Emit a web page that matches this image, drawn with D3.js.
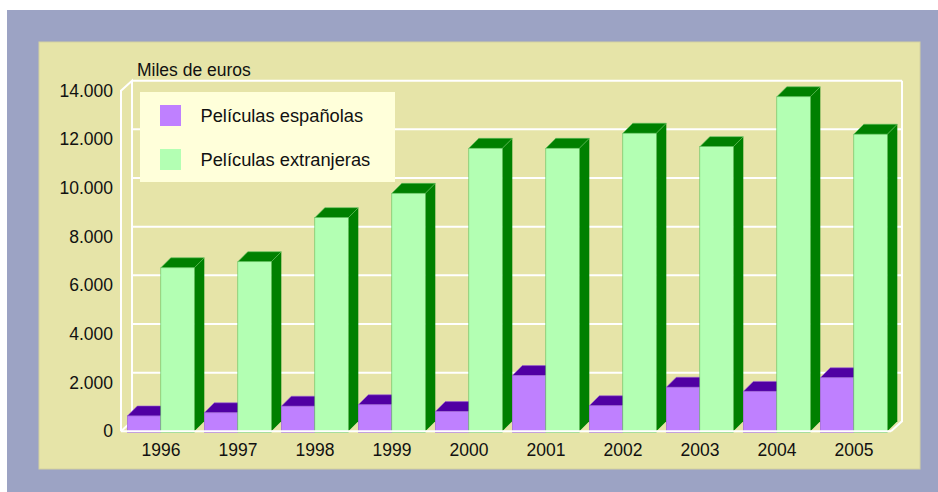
<!DOCTYPE html>
<html>
<head>
<meta charset="utf-8">
<script src="https://cdn.jsdelivr.net/npm/d3@7"></script>
<style>
  body { margin: 0; background: #fff; }
  svg { display: block; font-family: "Liberation Sans", Arial, sans-serif; }
</style>
</head>
<body>
<div id="chart"></div>
<script>
// values (miles de euros)
const years = ["1996", "1997", "1998", "1999", "2000", "2001", "2002", "2003", "2004", "2005"];
const espanolas = [630, 760, 1030, 1090, 810, 2290, 1050, 1810, 1640, 2200];
const extranjeras = [6720, 6970, 8780, 9780, 11630, 11630, 12250, 11700, 13750, 12210];
const seriesNames = ["Películas españolas", "Películas extranjeras"];
const yTicks = [0, 2000, 4000, 6000, 8000, 10000, 12000, 14000];

const WIDTH = 938;
const HEIGHT = 492;
const DEPTH_X = 11;   // wall depth
const DEPTH_Y = 10;
const BAR_DX = 10;    // bar depth
const BAR_DY = 10;
const FRONT_LEFT = 121;
const FRONT_RIGHT = 891;
const FRONT_BOTTOM = 431.3;
const FRONT_TOP = 90.7;

const colors = {
  front: ["#bf80ff", "#b3ffb3"],
  dark: ["#5000a3", "#008000"],
  edge: ["#9a5fd6", "#5cbf5c"]
};

const fmt = d3.formatLocale({ decimal: ",", thousands: ".", grouping: [3], currency: ["", " €"] }).format(",");

const svg = d3.select("#chart")
  .append("svg")
  .attr("width", WIDTH)
  .attr("height", HEIGHT);

// frame + panel
svg.append("rect").attr("x", 7).attr("y", 10).attr("width", WIDTH - 7).attr("height", HEIGHT - 10).attr("fill", "#9ca3c4");
svg.append("rect").attr("x", 39).attr("y", 42).attr("width", 881).attr("height", 427)
  .attr("fill", "#e6e4a8").attr("stroke", "#d4d2a0").attr("stroke-width", 1);

// scales
const x = d3.scaleBand().domain(years).range([FRONT_LEFT, FRONT_RIGHT]);
const sub = d3.scaleBand().domain(seriesNames).range([6.3, 73.3]);
const y = d3.scaleLinear().domain([0, 14000]).range([FRONT_BOTTOM, FRONT_TOP]);

// back wall grid
const walls = svg.append("g").attr("stroke", "#fff").attr("stroke-width", 2).attr("fill", "none");
walls.selectAll("line.grid")
  .data(yTicks.filter(d => d > 0))
  .join("line")
  .attr("class", "grid")
  .attr("x1", FRONT_LEFT + DEPTH_X)
  .attr("x2", FRONT_RIGHT + DEPTH_X)
  .attr("y1", d => y(d) - DEPTH_Y)
  .attr("y2", d => y(d) - DEPTH_Y);

const backTop = y(14000) - DEPTH_Y;
const backBottom = y(0) - DEPTH_Y;
walls.append("path").attr("d",
  `M${FRONT_LEFT},${FRONT_BOTTOM}V${y(14000)}L${FRONT_LEFT + DEPTH_X},${backTop}V${backBottom}`);
walls.append("path").attr("d",
  `M${FRONT_RIGHT + DEPTH_X},${backTop}V${backBottom}L${FRONT_RIGHT},${FRONT_BOTTOM}`);
walls.append("path").attr("d", `M${FRONT_LEFT},${FRONT_BOTTOM}L${FRONT_LEFT + DEPTH_X},${backBottom}`);

// bars
const rows = years.map((yr, i) => ({ year: yr, values: [espanolas[i], extranjeras[i]] }));
const barG = svg.append("g");

rows.forEach(row => {
  row.values.forEach((v, s) => {
    const x0 = x(row.year) + sub(seriesNames[s]);
    const w = sub.bandwidth();
    const yt = y(v);
    const yb = y(0);
    const bar = barG.append("g");
    // side
    bar.append("path")
      .attr("d", `M${x0 + w},${yt}L${x0 + w + BAR_DX},${yt - BAR_DY}V${yb - BAR_DY}L${x0 + w},${yb}Z`)
      .attr("fill", colors.dark[s]);
    // top
    bar.append("path")
      .attr("d", `M${x0},${yt}L${x0 + BAR_DX},${yt - BAR_DY}H${x0 + w + BAR_DX}L${x0 + w},${yt}Z`)
      .attr("fill", colors.dark[s])
      .attr("stroke", colors.edge[s]).attr("stroke-width", 0.6);
    // front
    bar.append("rect")
      .attr("x", x0).attr("y", yt)
      .attr("width", w).attr("height", yb - yt + 1.2)
      .attr("fill", colors.front[s])
      .attr("stroke", colors.edge[s]).attr("stroke-width", 0.6);
  });
});

// front floor edge over bars
svg.append("line")
  .attr("x1", FRONT_LEFT).attr("x2", FRONT_RIGHT)
  .attr("y1", FRONT_BOTTOM).attr("y2", FRONT_BOTTOM)
  .attr("stroke", "#fff").attr("stroke-width", 2);

// axes
const yAxis = svg.append("g")
  .attr("transform", `translate(${FRONT_LEFT},0)`)
  .call(d3.axisLeft(y).tickValues(yTicks).tickSize(0).tickPadding(8).tickFormat(fmt));
yAxis.select(".domain").remove();
yAxis.selectAll("text").attr("font-size", 17.5).attr("fill", "#111").attr("font-family", "Liberation Sans, Arial, sans-serif");

const xAxis = svg.append("g")
  .attr("transform", `translate(1.5,${FRONT_BOTTOM})`)
  .call(d3.axisBottom(x).tickSize(0).tickPadding(12));
xAxis.select(".domain").remove();
xAxis.selectAll("text").attr("font-size", 17.5).attr("fill", "#111").attr("font-family", "Liberation Sans, Arial, sans-serif");

svg.append("text")
  .attr("x", 137).attr("y", 76)
  .attr("font-size", 17.5).attr("fill", "#111")
  .text("Miles de euros");

// legend
const legend = svg.append("g");
legend.append("rect")
  .attr("x", 140).attr("y", 92).attr("width", 255).attr("height", 90)
  .attr("fill", "#ffffda");
legend.selectAll("rect.key")
  .data(seriesNames)
  .join("rect")
  .attr("class", "key")
  .attr("x", 160)
  .attr("y", (d, i) => 105 + i * 44)
  .attr("width", 21).attr("height", 21)
  .attr("fill", (d, i) => colors.front[i]);
legend.selectAll("text")
  .data(seriesNames)
  .join("text")
  .attr("x", 200.5)
  .attr("y", (d, i) => 121.5 + i * 44)
  .attr("font-size", 18.3).attr("fill", "#111")
  .text(d => d);
</script>
</body>
</html>
